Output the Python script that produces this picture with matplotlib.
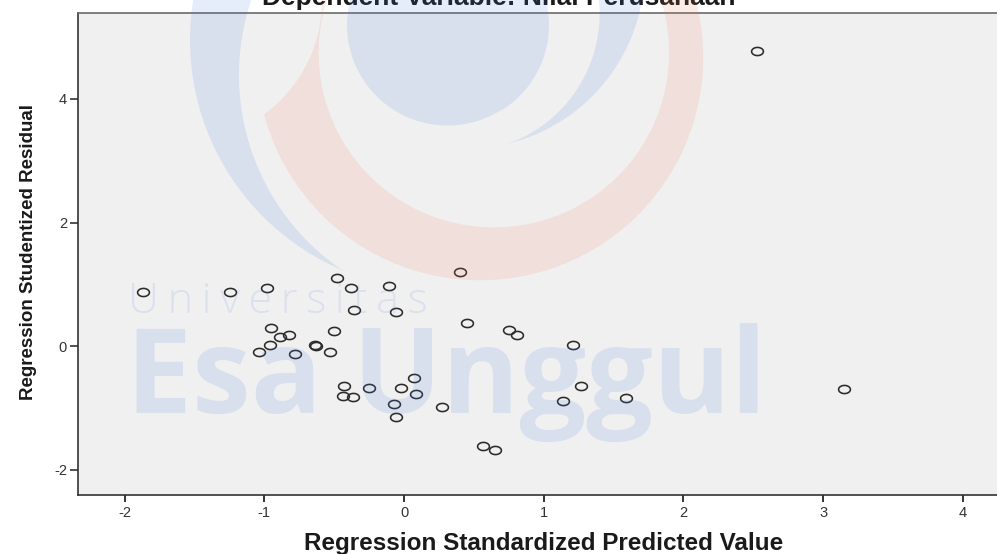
import numpy as np
import matplotlib
matplotlib.use('Agg')
from matplotlib import pyplot as plt
from matplotlib.path import Path

plt.rcParams['axes.unicode_minus'] = False

# regression standardized predicted value / studentized residual
pred = [-1.87, -1.245, -0.98, -0.48, -0.38, -0.36, -0.105, -0.06, 0.40,
        -0.95, -0.89, -0.825, -0.96, -1.035, -0.78, -0.64, -0.63, -0.50, -0.53,
        0.45, 0.754, 0.81, 1.21,
        -0.427, -0.44, -0.367, -0.25, -0.02, 0.074, 0.088, -0.074, -0.057, 0.272,
        0.563, 0.654, 1.27, 1.136, 1.587, 3.15, 2.525]
resid = [0.88, 0.88, 0.95, 1.10, 0.935, 0.59, 0.975, 0.555, 1.20,
         0.30, 0.145, 0.18, 0.02, -0.09, -0.125, 0.025, 0.01, 0.24, -0.09,
         0.38, 0.26, 0.19, 0.02,
         -0.635, -0.80, -0.815, -0.68, -0.67, -0.52, -0.77, -0.94, -1.15, -0.98,
         -1.62, -1.68, -0.65, -0.89, -0.83, -0.69, 4.78]
x_ticks = [-2, -1, 0, 1, 2, 3, 4]
y_ticks = [-2, 0, 2, 4]

W, H = 997, 554
fig = plt.figure(figsize=(W / 100, H / 100), dpi=100, facecolor='white')

ax = fig.add_axes([78 / W, 59 / H, 1 - 78 / W, 482 / H])
ax.set_facecolor('#f0f0f0')

# SPSS draws its circles a bit flattened in this export
t = np.linspace(0, 2 * np.pi, 64)
ellipse = Path(np.column_stack([np.cos(t), 0.69 * np.sin(t)]), closed=True)
ax.plot(pred, resid, ls='none', marker=ellipse, markersize=8.5,
        markerfacecolor='none', markeredgecolor='#2b2b2b', markeredgewidth=1.15)

ax.set_xlim(-2.334, 4.245)
ax.set_ylim(-2.405, 5.39)
ax.set_xticks(x_ticks)
ax.set_yticks(y_ticks)
ax.tick_params(axis='x', direction='out', length=5, width=1.4, color='#333333',
               labelsize=10.5, labelcolor='#333333', pad=3)
ax.tick_params(axis='y', direction='out', length=6, width=1.2, color='#333333',
               labelsize=10.5, labelcolor='#333333', pad=2)
for lab in ax.get_xticklabels() + ax.get_yticklabels():
    lab.set_fontfamily('Liberation Sans')
ax.spines['right'].set_visible(False)
ax.spines['top'].set_color('#6a6a6a')
ax.spines['top'].set_linewidth(1.2)
for s in ['left', 'bottom']:
    ax.spines[s].set_color('#333333')
    ax.spines[s].set_linewidth(1.2)

fig.text(0.5, 1 - 5 / H, 'Dependent Variable: Nilai Perusahaan', ha='center',
         va='baseline', fontsize=19, fontweight='bold', family='Liberation Sans',
         color='#1a1a1a')
fig.text(544 / W, 1 - 550 / H, 'Regression Standardized Predicted Value',
         ha='center', va='baseline', fontsize=17.5, fontweight='bold',
         family='Liberation Sans', color='#1a1a1a')
fig.text(33 / W, 1 - 252 / H, 'Regression Studentized Residual', rotation=90,
         rotation_mode='anchor', ha='center', va='baseline', fontsize=13.5,
         fontweight='bold', family='Liberation Sans', color='#1a1a1a')

# university watermark laid over the whole picture
wm = fig.add_axes([0, 0, 1, 1], zorder=5)
wm.set_xlim(0, W)
wm.set_ylim(H, 0)
wm.axis('off')
wm.patch.set_visible(False)

xx, yy = np.meshgrid(np.arange(W) + 0.5, np.arange(H) + 0.5)


def circ(cx, cy, r):
    return r - np.hypot(xx - cx, yy - cy)


blue_sd = np.maximum.reduce([
    circ(447.5, 25, 100.5),
    np.minimum(circ(440, 40, 250), -circ(475, 75, 236)),
    np.minimum.reduce([circ(464.8, -30.2, 178.8), -circ(460.1, 13.4, 138.5), xx - 430]),
])
salmon_sd = np.minimum.reduce([circ(479.5, 57.5, 222.7), -circ(493.4, 52.6, 174.7),
                               -circ(180, 0, 142)])


def layer(sd, rgb, alpha):
    img = np.zeros((H, W, 4))
    img[..., :3] = np.array(rgb) / 255
    img[..., 3] = np.clip(sd + 0.5, 0, 1) * alpha
    return img


wm.imshow(layer(salmon_sd, (240, 120, 80), 0.14), extent=(0, W, H, 0),
          interpolation='nearest', aspect='auto')
wm.imshow(layer(blue_sd, (70, 120, 220), 0.14), extent=(0, W, H, 0),
          interpolation='nearest', aspect='auto')

wm_blue = (70 / 255, 120 / 255, 220 / 255)
wm.text(128, 313, 'U\u2009n\u2009i\u2009v\u2009e\u2009r\u2009s\u2009i\u2009t\u2009a\u2009s',
        ha='left', va='baseline', fontsize=31, fontweight='light',
        family=['Open Sans', 'DejaVu Sans'], color=wm_blue, alpha=0.13)
wm.text(126, 413, 'Esa Unggul', ha='left', va='baseline', fontsize=85,
        fontweight='bold', family=['Open Sans', 'DejaVu Sans'], color=wm_blue,
        alpha=0.14)

fig.savefig('out.png', dpi=100)
